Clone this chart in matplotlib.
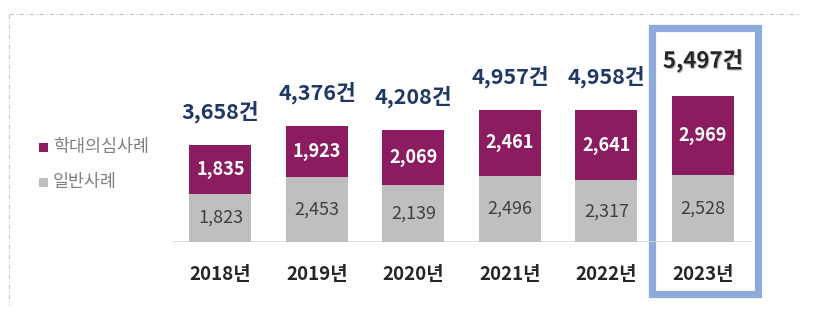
import matplotlib
matplotlib.use('Agg')
import matplotlib.pyplot as plt
import matplotlib.patches as mpatches
import matplotlib.patheffects as pe
import numpy as np

plt.rcParams['font.family'] = ['Noto Sans CJK KR', 'DejaVu Sans']

years = ['2018년', '2019년', '2020년', '2021년', '2022년', '2023년']
abuse = [1835, 1923, 2069, 2461, 2641, 2969]      # 학대의심사례
general = [1823, 2453, 2139, 2496, 2317, 2528]    # 일반사례
legend_labels = ['학대의심사례', '일반사례']

PURPLE = '#8b1c60'
GRAY = '#bfbfbf'
NAVY = '#1f3864'
DARK = '#262626'
BOX = '#8eaadb'

W, H = 828, 315
fig = plt.figure(figsize=(W / 100, H / 100), dpi=100)

# overlay in pixel coords for frame, legend and highlight box
ov = fig.add_axes([0, 0, 1, 1])
ov.set_xlim(0, W); ov.set_ylim(H, 0)
ov.axis('off')
ov.plot([9, 800], [14, 14], color='#c8c8c8', lw=0.8, ls=(0, (4, 2, 1, 2)))
ov.plot([9, 9], [14, 305], color='#c8c8c8', lw=0.8, ls=(0, (4, 2, 1, 2)))
ov.add_patch(mpatches.Rectangle((652.5, 27.5), 106, 266, fill=False,
                                edgecolor=BOX, lw=5.2))
for i, (lab, col) in enumerate(zip(legend_labels, [PURPLE, GRAY])):
    y = 147 + i * 35
    ov.add_patch(mpatches.Rectangle((39, y - 4.5), 9, 9, facecolor=col, edgecolor='none'))
    ov.text(53, y, lab, fontsize=12.5, color='#808080', va='center', ha='left',
            fontweight='medium')

# bar axes: center of bar 0 at 220.5px, 96.5px per bar, 0.0266 px per case
px_per = 0.0266
x0, step = 220.5, 96.5
left_px, right_px = 160, 780
base_px = H - 242
ax = fig.add_axes([left_px / W, base_px / H, (right_px - left_px) / W, (H - base_px) / H])
ax.set_xlim((left_px - x0) / step, (right_px - x0) / step)
ax.set_ylim(0, (H - base_px) / px_per)
ax.axis('off')

x = np.arange(len(years))
bw = 62 / step
ax.bar(x, general, width=bw, color=GRAY, zorder=2)
ax.bar(x, abuse, width=bw, bottom=general, color=PURPLE, zorder=2)
ax.plot([(173 - x0) / step, (751 - x0) / step], [0, 0], color='#d9d9d9', lw=1.2, zorder=1)

for i in x:
    g, a = general[i], abuse[i]
    tot = g + a
    ax.text(i, g / 2, f'{g:,}', ha='center', va='center', fontsize=13, color='#404040',
            fontweight='medium')
    ax.text(i, g + a / 2, f'{a:,}', ha='center', va='center', fontsize=13,
            color='white', fontweight='bold')
    ax.text(i, -32 / px_per, years[i], ha='center', va='center', fontsize=13.5,
            color=DARK, fontweight='bold', clip_on=False)
    if i == len(years) - 1:
        ax.text(i, tot + 35 / px_per, f'{tot:,}건', ha='center', va='center', fontsize=16,
                color=DARK, fontweight='bold', clip_on=False,
                path_effects=[pe.SimplePatchShadow(offset=(0.8, -0.8), shadow_rgbFace='#888888', alpha=0.6),
                              pe.Normal()])
    else:
        ax.text(i, tot + 33 / px_per, f'{tot:,}건', ha='center', va='center', fontsize=15.5,
                color=NAVY, fontweight='bold', clip_on=False)

plt.savefig('out.png', dpi=100)
plt.close()
